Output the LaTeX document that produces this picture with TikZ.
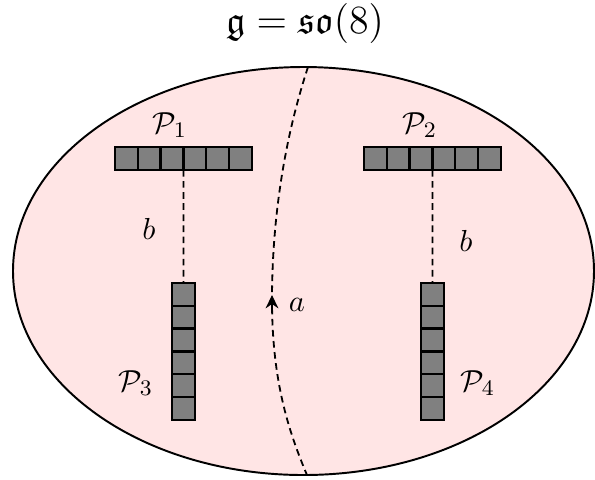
\documentclass[tikz,border=0pt]{standalone}
\usepackage{amssymb}
\usetikzlibrary{arrows.meta,calc}
\begin{document}
\begin{tikzpicture}[x=0.36pt,y=-0.36pt,
  cell/.style={draw,fill=gray,line width=0.85pt,inner sep=0pt,outer sep=0pt,minimum size=8.208pt},
  conn/.style={dashed,dash pattern=on 2.4pt off 1.6pt,line width=0.65pt},
  lbl/.style={inner sep=0pt,font=\fontsize{11.3}{13}\selectfont}]
\useasboundingbox (0,0) rectangle (595,479);
\node[inner sep=0pt,font=\fontsize{13.8}{16}\selectfont] (title) at (305,23) {$\mathfrak{g}=\mathfrak{so}(8)$};
\draw[fill=red!10,line width=0.7pt] (303.5,271) ellipse [x radius=290.5,y radius=204];
% horizontal bars
\foreach \k in {1,...,6} {
  \node[cell] (pa\k) at ({115+11.4+22.8*(\k-1)},158.5) {};
  \node[cell] (pb\k) at ({364+11.4+22.8*(\k-1)},158.5) {};
}
% vertical bars
\foreach \k in {1,...,6} {
  \node[cell] (pc\k) at (183.5,{283+11.4+22.8*(\k-1)}) {};
  \node[cell] (pd\k) at (432.4,{283+11.4+22.8*(\k-1)}) {};
}
\draw[conn] (pa3.south east) -- (pc1.north);
\draw[conn] (pb3.south east) -- (pd1.north);
% labels
\node[lbl] (l1) at (170,125) {$\mathcal{P}_1$};
\node[lbl] (l2) at (420,125) {$\mathcal{P}_2$};
\node[lbl] (l3) at (136,383) {$\mathcal{P}_3$};
\node[lbl] (l4) at (478,383) {$\mathcal{P}_4$};
\node[lbl] (b1) at (149,229) {$b$};
\node[lbl] (b2) at (466,241) {$b$};
\node[lbl] (la) at (297,305) {$a$};
% dashed loop
\coordinate (ct) at (308,67);
\coordinate (cm) at (272,300);
\coordinate (cb) at (307,475);
\draw[conn] (ct) .. controls (284,140) and (272,220) .. (cm)
  .. controls (272,380) and (288,430) .. (cb);
\coordinate (ab) at (272,310);
\coordinate (at) at (272,295);
\draw[-{Stealth[length=4.8pt,width=4.6pt]},line width=0.6pt] (ab) -- (at);
\end{tikzpicture}
\end{document}
